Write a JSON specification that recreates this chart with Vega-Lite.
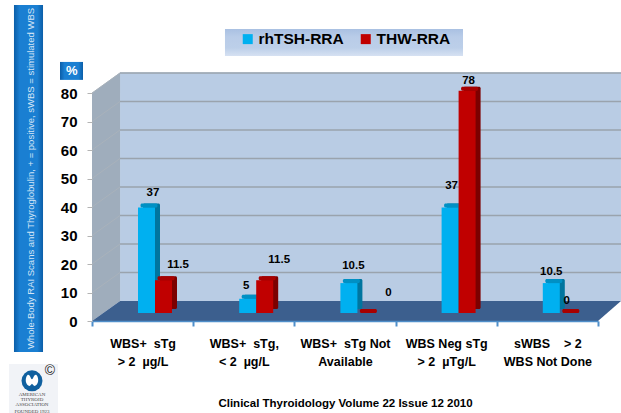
{"$schema":"https://vega.github.io/schema/vega-lite/v6.json","width":506,"height":228,"autosize":{"type":"none"},"padding":{"left":92,"top":93,"right":23,"bottom":92},"background":"white","config":{"view":{"stroke":null},"text":{"font":"Liberation Sans","fontWeight":"bold"},"axisY":{"tickCount":9,"tickColor":"#b4b4b4","labelOverlap":false}},
"datasets":{"bars":[
{"cat":"WBS+  sTg|> 2  µg/L","series":"rhTSH-RRA","value":37},{"cat":"WBS+  sTg|> 2  µg/L","series":"THW-RRA","value":11.5},
{"cat":"WBS+  sTg,|< 2  µg/L","series":"rhTSH-RRA","value":5},{"cat":"WBS+  sTg,|< 2  µg/L","series":"THW-RRA","value":11.5},
{"cat":"WBS+  sTg Not|Available","series":"rhTSH-RRA","value":10.5},{"cat":"WBS+  sTg Not|Available","series":"THW-RRA","value":0},
{"cat":"WBS Neg sTg|> 2  µTg/L","series":"rhTSH-RRA","value":37},{"cat":"WBS Neg sTg|> 2  µTg/L","series":"THW-RRA","value":78},
{"cat":"sWBS    > 2|WBS Not Done","series":"rhTSH-RRA","value":10.5},{"cat":"sWBS    > 2|WBS Not Done","series":"THW-RRA","value":0}],
"ticks":[{"v":10},{"v":20},{"v":30},{"v":40},{"v":50},{"v":60},{"v":70},{"v":80}]},
"layer":[
{"layer":[
{"data":{"values":[{"a":0.277,"b":5.227,"lo":7,"hi":87.2}]},"mark":{"type":"rect","fill":"#b9cce4"},"encoding":{"x":{"field":"a","type":"quantitative","axis":null,"scale":{"domain":[0,5],"nice":false,"zero":false}},"x2":{"field":"b"},"y":{"field":"lo","type":"quantitative","scale":{"domain":[0,80],"nice":false},"axis":{"values":[0,10,20,30,40,50,60,70,80],"grid":false,"domain":false,"tickColor":"#b4b4b4","tickSize":5,"labelFont":"Liberation Sans","labelFontWeight":"bold","labelFontSize":15,"labelColor":"#000000","labelPadding":10,"zindex":1,"title":"Whole-Body RAI Scans and Thyroglobulin, + = positive, sWBS = stimulated WBS","titleFont":"Liberation Sans","titleFontWeight":"normal","titleFontSize":9.5,"titleColor":"#d5e5f6","titleX":-62,"titleY":85,"titleAngle":270,"titleAlign":"center","titleBaseline":"middle","titleLimit":400}},"y2":{"field":"hi"}}},
{"data":{"values":[{"a":0,"lo":0,"hi":80},{"a":0.277,"lo":7,"hi":87.2}]},"mark":{"type":"area","fill":"#9fadbc","orient":"vertical"},"encoding":{"x":{"field":"a","type":"quantitative","axis":null},"y":{"field":"lo","type":"quantitative"},"y2":{"field":"hi"}}},
{"data":{"values":[{"d":0,"a":0,"b":5},{"d":7,"a":0.277,"b":5.227}]},"mark":{"type":"area","fill":"#3c5f8e","orient":"horizontal"},"encoding":{"y":{"field":"d","type":"quantitative"},"x":{"field":"a","type":"quantitative","axis":null},"x2":{"field":"b"}}},
{"data":{"name":"ticks"},"mark":{"type":"rule","stroke":"#9aa3ad","strokeWidth":1.5,"xOffset":28,"yOffset":-20},"encoding":{"x":{"datum":0,"type":"quantitative","axis":null},"x2":{"datum":5.227},"y":{"field":"v","type":"quantitative"}}},
{"data":{"name":"ticks"},"mark":{"type":"rule","stroke":"#a9b2bb","strokeWidth":1,"x2Offset":28,"y2Offset":-20},"encoding":{"x":{"datum":0,"type":"quantitative","axis":null},"x2":{"datum":0},"y":{"field":"v","type":"quantitative"},"y2":{"field":"v"}}},
{"data":{"values":[{"a":-0.771,"b":-0.484,"lo":-10.9,"hi":110.9},{"a":-0.316,"b":-0.089,"lo":84.6,"hi":90.9}]},"mark":{"type":"rect","fill":{"gradient":"linear","x1":0,"y1":0,"x2":1,"y2":0,"stops":[{"offset":0,"color":"#0b5ea8"},{"offset":0.2,"color":"#1a7fd2"},{"offset":0.8,"color":"#1a7fd2"},{"offset":1,"color":"#0b5ea8"}]}},"encoding":{"x":{"field":"a","type":"quantitative","axis":null},"x2":{"field":"b"},"y":{"field":"lo","type":"quantitative"},"y2":{"field":"hi"}}},
{"data":{"values":[{"a":1.314,"b":3.666,"lo":93,"hi":102.5}]},"mark":{"type":"rect","fill":{"gradient":"linear","x1":0,"y1":0,"x2":0,"y2":1,"stops":[{"offset":0,"color":"#a9c0e2"},{"offset":0.3,"color":"#b9cce8"},{"offset":0.7,"color":"#bccfe9"},{"offset":1,"color":"#d6e1f2"}]}},"encoding":{"x":{"field":"a","type":"quantitative","axis":null},"x2":{"field":"b"},"y":{"field":"lo","type":"quantitative"},"y2":{"field":"hi"}}},
{"data":{"values":[{"a":-0.82,"b":-0.336,"lo":-32.3,"hi":-15.1}]},"mark":{"type":"rect","fill":"#f1f3f7"},"encoding":{"x":{"field":"a","type":"quantitative","axis":null},"x2":{"field":"b"},"y":{"field":"lo","type":"quantitative"},"y2":{"field":"hi"}}},
{"data":{"values":[{"a":-0.593,"b":-21}]},"mark":{"type":"point","shape":"circle","filled":true,"fill":"#10609f","size":440,"opacity":1},"encoding":{"x":{"field":"a","type":"quantitative","axis":null},"y":{"field":"b","type":"quantitative"}}},
{"data":{"values":[{"a":-0.593,"b":-21}]},"mark":{"type":"point","shape":"M-0.6,-0.8 C-0.2,-0.9 -0.2,-0.2 0,-0.2 C0.2,-0.2 0.2,-0.9 0.6,-0.8 C1,-0.4 0.9,0.6 0.3,0.7 L0,0.4 L-0.3,0.7 C-0.9,0.6 -1,-0.4 -0.6,-0.8Z","filled":true,"fill":"#ffffff","size":220,"opacity":1},"encoding":{"x":{"field":"a","type":"quantitative","axis":null},"y":{"field":"b","type":"quantitative"}}},
{"data":{"values":[{"a":-0.593,"b":-25.6,"t":"AMERICAN"},{"a":-0.593,"b":-27.4,"t":"THYROID"},{"a":-0.593,"b":-29.1,"t":"ASSOCIATION"},{"a":-0.593,"b":-31.6,"t":"FOUNDED 1923"}]},"mark":{"type":"text","font":"Liberation Serif","fontWeight":"normal","fontSize":5,"fill":"#444444"},"encoding":{"x":{"field":"a","type":"quantitative","axis":null},"y":{"field":"b","type":"quantitative"},"text":{"field":"t"}}},
{"data":{"values":[{"a":-0.415,"b":-17.5,"t":"©"}]},"mark":{"type":"text","font":"Liberation Sans","fontWeight":"normal","fontSize":14,"fill":"#222222"},"encoding":{"x":{"field":"a","type":"quantitative","axis":null},"y":{"field":"b","type":"quantitative"},"text":{"field":"t"}}},
{"data":{"values":[{"a":-0.2,"b":87.8,"t":"%"}]},"mark":{"type":"text","font":"Liberation Sans","fontWeight":"bold","fontSize":13,"fill":"#ffffff"},"encoding":{"x":{"field":"a","type":"quantitative","axis":null},"y":{"field":"b","type":"quantitative"},"text":{"field":"t"}}}
]},
{"data":{"name":"bars"},"encoding":{"x":{"field":"cat","type":"nominal","sort":null,"scale":{"paddingInner":0,"paddingOuter":0},"axis":{"labelExpr":"split(replace(datum.label,/ /g,'\u00a0'),'|')","labelAngle":0,"labelFont":"Liberation Sans","labelFontWeight":"bold","labelFontSize":12.5,"labelColor":"#000000","labelLineHeight":18,"labelPadding":11,"labelLimit":200,"labelBaseline":"top","tickBand":"extent","tickSize":5,"tickColor":"#4f8fca","tickWidth":2,"domainColor":"#4f8fca","domainWidth":1.5,"zindex":1,"title":"Clinical Thyroidology Volume 22 Issue 12 2010","titleFont":"Liberation Sans","titleFontWeight":"bold","titleFontSize":11.5,"titleColor":"#000000","titleX":253,"titleY":82,"titleBaseline":"middle","titleAlign":"center"}},"xOffset":{"field":"series","type":"nominal","sort":null,"scale":{"type":"band","domain":["rhTSH-RRA","THW-RRA"],"range":[46,80],"paddingInner":0,"paddingOuter":0}},"y":{"field":"value","type":"quantitative","stack":null}},
"layer":[
{"mark":{"type":"bar","yOffset":-12,"y2Offset":-12,"cornerRadius":1.5},"encoding":{"xOffset":{"field":"series","type":"nominal","sort":null,"scale":{"type":"band","domain":["rhTSH-RRA","THW-RRA"],"range":[51,85],"paddingInner":0,"paddingOuter":0}},"y2":{"datum":0},"fill":{"condition":{"test":"datum.series==='THW-RRA'","value":"#7c0000"},"value":"#00759f"}}},
{"mark":{"type":"bar","yOffset":-12,"y2Offset":-8,"cornerRadius":1.5},"encoding":{"xOffset":{"field":"series","type":"nominal","sort":null,"scale":{"type":"band","domain":["rhTSH-RRA","THW-RRA"],"range":[48.5,82.5],"paddingInner":0,"paddingOuter":0}},"y2":{"field":"value"},"fill":{"condition":{"test":"datum.series==='THW-RRA'","value":"#a80000"},"value":"#0090c4"}}},
{"mark":{"type":"bar","yOffset":-8,"y2Offset":-8},"encoding":{"y2":{"datum":0},"color":{"field":"series","type":"nominal","sort":null,"scale":{"domain":["rhTSH-RRA","THW-RRA"],"range":["#00b0f0","#c00000"]},"legend":{"title":null,"orient":"none","legendX":148,"legendY":-62,"direction":"horizontal","columns":2,"columnPadding":14,"symbolType":"square","symbolSize":100,"symbolStrokeWidth":0,"symbolOpacity":1,"labelFont":"Liberation Sans","labelFontWeight":"bold","labelFontSize":15.5,"labelColor":"#000000","labelOffset":3,"labelLimit":200}}}},
{"transform":[{"filter":"datum.cat==='WBS+  sTg|> 2  µg/L' && datum.series==='rhTSH-RRA'"}],"mark":{"type":"text","fontSize":11.5,"dx":6.5,"yOffset":-22.5,"fill":"#000000"},"encoding":{"text":{"field":"value"}}},
{"transform":[{"filter":"datum.cat==='WBS+  sTg|> 2  µg/L' && datum.series==='THW-RRA'"}],"mark":{"type":"text","fontSize":11.5,"dx":14.5,"yOffset":-23,"fill":"#000000"},"encoding":{"text":{"field":"value"}}},
{"transform":[{"filter":"datum.cat==='WBS+  sTg,|< 2  µg/L' && datum.series==='rhTSH-RRA'"}],"mark":{"type":"text","fontSize":11.5,"dx":-1.5,"yOffset":-21,"fill":"#000000"},"encoding":{"text":{"field":"value"}}},
{"transform":[{"filter":"datum.cat==='WBS+  sTg,|< 2  µg/L' && datum.series==='THW-RRA'"}],"mark":{"type":"text","fontSize":11.5,"dx":14.5,"yOffset":-28,"fill":"#000000"},"encoding":{"text":{"field":"value"}}},
{"transform":[{"filter":"datum.cat==='WBS+  sTg Not|Available' && datum.series==='rhTSH-RRA'"}],"mark":{"type":"text","fontSize":11.5,"dx":4.5,"yOffset":-25,"fill":"#000000"},"encoding":{"text":{"field":"value"}}},
{"transform":[{"filter":"datum.cat==='WBS+  sTg Not|Available' && datum.series==='THW-RRA'"}],"mark":{"type":"text","fontSize":11.5,"dx":22.5,"yOffset":-28,"fill":"#000000"},"encoding":{"text":{"field":"value"}}},
{"transform":[{"filter":"datum.cat==='WBS Neg sTg|> 2  µTg/L' && datum.series==='rhTSH-RRA'"}],"mark":{"type":"text","fontSize":11.5,"dx":1.5,"yOffset":-29.5,"fill":"#000000"},"encoding":{"text":{"field":"value"}}},
{"transform":[{"filter":"datum.cat==='WBS Neg sTg|> 2  µTg/L' && datum.series==='THW-RRA'"}],"mark":{"type":"text","fontSize":11.5,"dx":1.5,"yOffset":-18,"fill":"#000000"},"encoding":{"text":{"field":"value"}}},
{"transform":[{"filter":"datum.cat==='sWBS    > 2|WBS Not Done' && datum.series==='rhTSH-RRA'"}],"mark":{"type":"text","fontSize":11.5,"dx":0,"yOffset":-19,"fill":"#000000"},"encoding":{"text":{"field":"value"}}},
{"transform":[{"filter":"datum.cat==='sWBS    > 2|WBS Not Done' && datum.series==='THW-RRA'"}],"mark":{"type":"text","fontSize":11.5,"dx":-1.5,"yOffset":-20,"fill":"#000000"},"encoding":{"text":{"field":"value"}}}
],"resolve":{"scale":{"xOffset":"independent"}}}
],"resolve":{"scale":{"x":"independent"},"axis":{"x":"independent"}}}
